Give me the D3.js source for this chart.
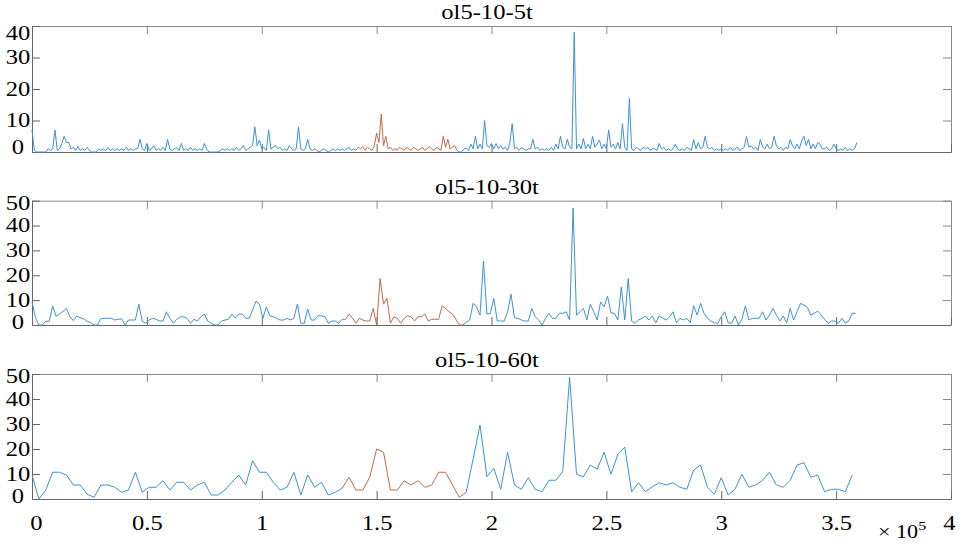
<!DOCTYPE html>
<html>
<head>
<meta charset="utf-8">
<script src="https://cdn.jsdelivr.net/npm/d3@7"></script>
<style>
  body { margin: 0; background: #fff; }
  text { font-family: "Liberation Serif", "Times New Roman", serif; fill: #000; }
</style>
</head>
<body>
<div id="chart"></div>
<script>
// data
var titles = ["ol5-10-5t", "ol5-10-30t", "ol5-10-60t"];
var xTicks = [0, 0.5, 1, 1.5, 2, 2.5, 3, 3.5, 4];   // x 10^5
var yMax = [40, 50, 50];
var yTicks = [[0, 10, 20, 30, 40], [0, 10, 20, 30, 40, 50], [0, 10, 20, 30, 40, 50]];
var steps = [1000, 1500, 3000];
// span drawn in the second colour, in x units
var redRanges = [[141000, 185000], [136500, 187500], [135000, 189000]];

var vals5t = [
  7,0.5,0,0,0,0,0,1,0.5,1,7,0.5,1,2.7,5,3,3,1,1.5,0.5,
  1.7,0.5,1,0.5,1.5,0.5,0,0,0,1,0.5,1,0.5,1.5,0.5,1,0.5,1,0.5,1,
  0.5,1.5,0.5,1,0.5,1,1,4,1,0.5,2.7,0.5,1,2,0.5,1,0.5,1.5,0.5,4,
  1,0.5,1,1.5,0.5,2.7,0.5,1,0.5,1.5,0.5,1,0.5,1,0.5,2.7,1,0,0,0,
  0,0,0.5,1,0.5,1,0.5,1,0.5,1.5,0.5,1,2,0.5,1,1.5,2,8,2,3.8,
  1,1.5,0.5,7,1,1.5,2,1,1.5,0.5,1,0.5,2,1,0.5,1,8,1,0.5,1,
  4,1,0.5,1,0.5,0,0.5,1,0.5,0,0.5,1,0.5,1,0.5,1,0.5,1,1.5,0.5,
  1,0.5,1.5,1,1.7,0.5,1.5,1,0.5,2,6,3,12,2,5,1,1.5,0.5,1,0.5,
  1.5,1,0.5,1.5,1,0.5,1.5,1,0.5,1,1.5,0.5,1,1.7,1,0.5,1.5,1,0.5,5,
  1.5,4,1,1.5,2,0.5,0,0,1,1.2,0.5,2.5,1,5,1,2.5,1,10,2,1.5,
  2.7,1,2.7,1,2,1,1.5,0.5,3,9,1,1.5,0.5,1.3,1,0.5,1,1,4,1,
  1.5,0.5,1,0.5,1,0.5,1.5,0.5,2.5,1,5,1.5,1,4,1.5,1,38,1,2.5,1,
  4.3,1,2.5,1,5,1.5,2.5,3.8,1,2.5,1,7,1.5,2.5,1,3,1,9,1.5,0.5,
  17,1,0.5,1.5,1,0.5,1.5,1,1.5,0.5,1,1,0.5,2.7,1,1.5,0.5,1,0.5,1,
  2.5,1,0.5,1,0.5,1.5,1,0.5,4,1,3,1,1.5,5,1.5,1,1.5,0.5,1,0.5,
  1,0.5,1,0.5,1.5,0.5,1,1.5,0.5,1,1.5,5,1.5,2,1,1.5,0.5,4,1.5,1,
  2.5,1,1.5,5,2,1,1.5,0.5,1.5,1,4,2,1,2.5,1,3.5,5,2,4,1,
  2.5,1,3,2.5,1,1,1.5,0.5,1,2.5,1,0.5,1,0.5,1.5,0.5,1,0.5,1,3
];

var vals30t = [
  9.3,3,0,0,1.5,1.5,7.7,3.5,4.5,5.5,
  6.7,3.3,1.8,3.6,2.9,2.5,1.5,1,0,0,
  2.7,2.7,2.7,2.7,2,2.3,2.5,0,2,2,
  2,8.4,1.5,0.7,2,2.7,2.3,1.6,1.6,5.3,
  2.7,0.7,2.3,3.3,3.3,2.7,0.7,2.3,1.6,3.3,
  4.4,1.6,0.7,0,0,1.6,2,2.3,4.4,2.7,
  4.4,4.4,2.7,2.7,6,9.6,8.4,2.7,7.3,3.7,
  3.3,2.7,2,2,2.7,2,2.7,8.4,0.7,0.7,
  6.4,2,2,3.7,3.7,3.3,0.7,1.6,1.6,0.7,
  2.3,2.3,4.4,2.7,0.7,2.7,2,1.6,1.6,6.7,
  0,18.7,8.4,10.7,0.7,3.3,2.7,0.7,2.7,3.7,
  3.3,1.6,3.3,3.3,4.4,1.6,2.3,2.3,2.3,7.7,
  6.7,5.3,4.4,2.3,0,0,1,2,8.7,7.3,
  4,25.7,4.4,4.7,10.7,1.6,1.6,1.6,5.3,12.4,
  2.9,2.7,2,1.6,1.6,6.7,3.3,2,0,2.7,
  4.7,2.7,2.7,4.7,4.7,5.3,2,47,4,5.3,
  6.7,2,8.4,5.3,2,9.3,7.3,11.6,4.9,4.7,
  2,15.3,2,18.7,1.6,0.7,2,2.7,3.6,2,
  3.6,0.9,3.6,2.7,2,3.3,5.3,0.9,2.7,2,
  2.7,0.9,7.7,4,8.7,4.7,2.7,1.6,0.9,0.7,
  3.3,5.3,0.9,0.7,3.6,0,2.3,7.7,2,2.7,
  2.7,2.7,5.3,2,4,6.7,4,1.6,3.6,0.9,
  6.7,2,5.3,8.7,8,7.1,4,4.7,5.6,4,
  2.3,0.7,1.6,1.6,0.7,2.7,0.7,1.6,4.7,4.7
];

var vals60t = [
  9.6,0,3.6,10.7,10.7,9.6,5.6,5.6,1.9,0.7,
  5.6,5.6,4.7,2.7,3.6,10.7,2.7,4.7,4.7,7.3,
  3.6,6.7,6.7,3.6,5.6,6.7,1.6,1.6,3.6,6.7,
  9.6,5.6,15.3,10.7,10.7,6.7,3.6,4.7,10.7,1.6,
  9.6,4.7,6.7,1.6,2.7,4.3,8.7,3.6,3.6,8.7,
  20,18.7,3.6,3.6,7.3,5.6,7.3,4.7,5.6,10.7,
  10.7,5.6,0.7,2.7,16,29.6,8.9,12.3,3.9,18.7,
  5.6,3.9,8.5,3.9,2.9,7.5,7.5,10.9,48.7,9.9,
  8.9,13.6,11.9,18.7,9.9,17.9,20.7,2.9,6.5,2.9,
  4.9,6.5,5.6,6.5,4.7,3.9,11.6,13.6,4.7,1.9,
  8.5,1.6,3.9,9.9,4.7,5.6,7.5,10.7,5.6,4.7,
  7.5,13.6,14.5,8.7,9.6,2.9,3.9,3.9,2.9,9.6
];

var series = [vals5t, vals30t, vals60t];

var width = 968, height = 544;
var left = 32, right = 951;
var panelTop = [26, 200.7, 374], panelBottom = [152, 325, 499];
var stretch = 1.23;          // text in the picture is wider than it is tall
var blue = "#3d93d3", red = "#c46a45";

var svg = d3.select("#chart")
  .append("svg")
    .attr("width", width)
    .attr("height", height);

var x = d3.scaleLinear()
  .domain([0, 4e5])
  .range([left, right]);

function styleAxis(g, col) {
  g.select(".domain").attr("stroke", col).attr("stroke-width", 1);
  g.selectAll(".tick line").attr("stroke", col).attr("stroke-width", 1);
}

series.forEach(function(vals, k) {
  var y = d3.scaleLinear()
    .domain([0, yMax[k]])
    .range([panelBottom[k], panelTop[k]]);

  // end labels sit a little inside the frame, as in the picture
  var shiftTop = k == 0 ? 7 : 2.5,
      shiftBot = k == 0 ? -5 : -2.5;

  var g = svg.append("g");

  // top and right axes (no labels)
  var topAx = g.append("g")
    .attr("transform", "translate(0," + panelTop[k] + ")")
    .call(d3.axisTop(x).tickValues(xTicks.map(function(d){ return d * 1e5; }))
      .tickSize(-8).tickSizeOuter(0).tickFormat(""));
  styleAxis(topAx, "#8a8a8a");

  var rightAx = g.append("g")
    .attr("transform", "translate(" + right + ",0)")
    .call(d3.axisRight(y).tickValues(yTicks[k]).tickSize(-8).tickSizeOuter(0).tickFormat(""));
  styleAxis(rightAx, "#8a8a8a");

  // bottom axis
  var botAx = g.append("g")
    .attr("transform", "translate(0," + panelBottom[k] + ")")
    .call(d3.axisBottom(x).tickValues(xTicks.map(function(d){ return d * 1e5; }))
      .tickSize(-8).tickSizeOuter(0)
      .tickFormat(function(d){ return k == 2 ? d3.format("")(d / 1e5) : ""; }));
  styleAxis(botAx, "#666");
  botAx.selectAll("text")
    .attr("font-size", "20px")
    .attr("y", 25)
    .attr("dy", "0.32em")
    .attr("x", function(d){ return d == 0 ? 4 / stretch : (d == 4e5 ? -2 / stretch : 0); })
    .attr("transform", "scale(" + stretch + ",1)");

  // left axis
  var leftAx = g.append("g")
    .attr("transform", "translate(" + left + ",0)")
    .call(d3.axisLeft(y).tickValues(yTicks[k]).tickSize(-8).tickSizeOuter(0));
  styleAxis(leftAx, "#666");
  leftAx.selectAll("text")
    .attr("font-size", "20px")
    .attr("text-anchor", "middle")
    .attr("x", -14 / stretch)
    .attr("y", function(d){ return d == yMax[k] ? shiftTop : (d == 0 ? shiftBot : 0); })
    .attr("transform", "scale(" + stretch + ",1)");

  // title
  g.append("text")
    .attr("transform", "translate(487," + (panelTop[k] - 7) + ") scale(" + stretch + ",1)")
    .attr("text-anchor", "middle")
    .attr("font-size", "20px")
    .text(titles[k]);

  // data
  var pts = vals.map(function(v, i){ return { x: i * steps[k], v: v }; });
  var r = redRanges[k];
  var i0 = pts.findIndex(function(d){ return d.x >= r[0]; });
  var i1 = i0;
  while (i1 + 1 < pts.length && pts[i1 + 1].x <= r[1]) i1++;

  var line = d3.line()
    .x(function(d){ return x(d.x); })
    .y(function(d){ return y(d.v); });

  [[pts.slice(0, i0 + 1), blue], [pts.slice(i0, i1 + 1), red], [pts.slice(i1), blue]]
    .forEach(function(s) {
      g.append("path")
        .datum(s[0])
        .attr("fill", "none")
        .attr("stroke", s[1])
        .attr("stroke-width", 1)
        .attr("stroke-linejoin", "round")
        .attr("d", line);
    });
});

// exponent label
var ex = svg.append("text")
  .attr("transform", "translate(878,538) scale(" + stretch + ",1)")
  .attr("font-size", "18px");
ex.append("tspan").text("\u00d7 10");
ex.append("tspan").attr("dy", -8).attr("font-size", "13px").text("5");
</script>
</body>
</html>
